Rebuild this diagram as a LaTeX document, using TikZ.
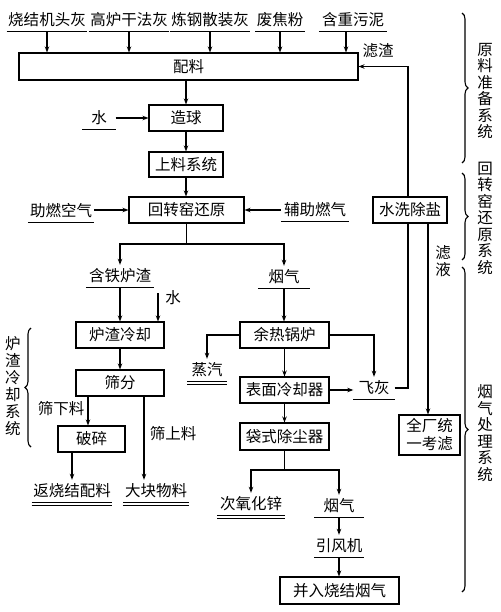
\documentclass[tikz,border=0pt]{standalone}
\usepackage{fontspec}
\newfontfamily\cjk{Noto Sans CJK SC}
\usetikzlibrary{arrows.meta,decorations.pathreplacing}
\begin{document}
\begin{tikzpicture}[x=1pt,y=-1pt,
  every node/.style={font=\cjk\fontsize{15.5}{16.5}\selectfont},
  box/.style={draw, line width=1.1pt, minimum height=26pt, inner sep=0pt, text height=11.5pt, text depth=0pt},
  lab/.style={inner xsep=1.5pt, inner ysep=5.25pt, text height=11.5pt, text depth=0pt},
  plain/.style={inner sep=0pt},
  arr/.style={line width=1.1pt, -{Stealth[length=6pt,width=4.5pt]}},
  ln/.style={line width=1.1pt},
  ul/.style={line width=1pt},
  brc/.style={line width=1.1pt, decorate, decoration={brace, amplitude=6pt}},
  vtxt/.style={align=center, inner sep=0pt}
]
\useasboundingbox (0,0) rectangle (500,612);

% top raw materials
\node[lab] (s1) at (47,20) {烧结机头灰};
\node[lab] (s2) at (129,20) {高炉干法灰};
\node[lab] (s3) at (210,20) {炼钢散装灰};
\node[lab] (s4) at (280,20) {废焦粉};
\node[lab, minimum width=68pt] (s5) at (353,20) {含重污泥};
\node[box, minimum width=339pt, minimum height=27pt] (pl) at (188.5,66.5) {配料};
\node[plain] (lz) at (378,51) {滤渣};

\node[lab, minimum width=33pt] (w1) at (99,118) {水};
\node[box, minimum width=74pt] (zq) at (186,118) {造球};
\node[box, minimum width=74pt, minimum height=25pt] (sl) at (186,164.5) {上料系统};
\node[box, minimum width=115pt] (hz) at (186.5,210) {回转窑还原};
\node[lab, minimum width=66pt] (zr) at (61,211) {助燃空气};
\node[lab, minimum width=68pt] (fz) at (315,210) {辅助燃气};
\node[box, minimum width=74pt] (sx) at (410,210) {水洗除盐};
\node[vtxt] (ly) at (443,261) {滤\\液};

\node[lab, minimum width=68pt] (ht) at (120,276) {含铁炉渣};
\node[lab, minimum width=52pt] (yq1) at (284,277) {烟气};
\node[plain] (w2) at (173,298) {水};
\node[box, minimum width=88pt] (lq) at (120,335) {炉渣冷却};
\node[box, minimum width=89pt] (yr) at (284.5,335) {余热锅炉};
\node[lab, minimum width=39pt] (zq2) at (207,370) {蒸汽};
\node[box, minimum width=88pt] (sf) at (120,383) {筛分};
\node[box, minimum width=89pt] (bm) at (284.5,390) {表面冷却器};
\node[lab, minimum width=41pt] (fh) at (374,388) {飞灰};
\node[plain] (sxl) at (61,409) {筛下料};
\node[plain] (ssl) at (173,434) {筛上料};
\node[box, minimum width=89pt, minimum height=27pt] (ds) at (284.5,436.5) {袋式除尘器};
\node[box, minimum width=67pt] (ps) at (91.5,439) {破碎};
\node[draw, line width=1.1pt, inner sep=0pt, minimum width=61pt, minimum height=40pt, align=center,
      font=\cjk\fontsize{15.5}{18}\selectfont] (qc) at (429.5,435) {全厂统\\一考滤};
\node[lab, minimum width=80pt] (fs) at (72,491) {返烧结配料};
\node[lab, minimum width=66pt] (dk) at (156,491) {大块物料};
\node[lab, minimum width=67pt] (cy) at (251,504) {次氧化锌};
\node[lab, minimum width=49pt] (yq2) at (339,506) {烟气};
\node[lab, minimum width=47pt] (yf) at (339,546) {引风机};
\node[box, minimum width=119pt, minimum height=27pt] (br) at (339.5,590.5) {并入烧结烟气};

% underlines
\foreach \n in {s1,s2,s3,s4,s5,w1,zr,fz,ht,yq1,fh,yq2,yf}
  \draw[ul] (\n.south west) -- (\n.south east);
\foreach \n in {zq2,fs,dk,cy}{
  \draw[ul] (\n.south west) -- (\n.south east);
  \draw[ul] ([yshift=-3pt]\n.south west) -- ([yshift=-3pt]\n.south east);
}

% connectors
\foreach \n in {s1,s2,s3,s4}
  \draw[arr] (\n.south) -- (\n.south |- pl.north);
\draw[arr] ([xshift=-7pt]s5.south) -- ([xshift=-7pt]s5.south |- pl.north);
\draw[arr] (pl.south -| zq.north) -- (zq.north);
\draw[arr] (w1.east) -- (w1.east -| zq.west);
\draw[arr] (zq.south) -- (sl.north);
\draw[arr] (sl.south) -- (sl.south |- hz.north);
\draw[arr] (hz.west -| zr.east) -- (hz.west);
\draw[arr] (hz.east -| fz.west) -- (hz.east);
\coordinate (sp1) at (186.5,244);
\draw[ln] (hz.south) -- (sp1);
\draw[arr] (sp1) -| (ht.north);
\draw[arr] (sp1) -| (yq1.north);
\draw[arr] (ht.south) -- (ht.south |- lq.north);
\coordinate (w2t) at (158,293);
\draw[arr] (w2t) -- (w2t |- lq.north);
\draw[arr] (lq.south) -- (sf.north);
\draw[arr] ([xshift=-32pt]sf.south) -- ([xshift=-32pt]sf.south |- ps.north);
\draw[arr] ([xshift=24pt]sf.south) -- ([xshift=24pt]sf.south |- dk.north);
\draw[arr] (ps.south -| fs.north) -- (fs.north);
\draw[arr] (yq1.south) -- (yq1.south |- yr.north);
\draw[arr] (yr.west) -| (zq2.north);
\draw[arr] (yr.east) -| (fh.north);
\draw[arr] (yr.south) -- (bm.north);
\draw[arr] (bm.east) -- (bm.east -| fh.west);
\draw[arr] (bm.south) -- (ds.north);
\coordinate (sp2) at (284.5,470);
\draw[ln] (ds.south) -- (sp2);
\draw[arr] (sp2) -| (cy.north);
\draw[arr] (sp2) -| (yq2.north);
\draw[arr] (yq2.south) -- (yf.north);
\draw[arr] (yf.south) -- (yf.south |- br.north);
\draw[ln] (fh.east) -| ([xshift=-2pt]sx.south);
\draw[arr] ([xshift=-2pt]sx.north) |- (pl.east);
\draw[arr] ([xshift=18pt]sx.south) -- ([xshift=18pt]sx.south |- qc.north);

% system brackets
\draw[brc] (462,13) -- (462,163);
\draw[brc] (462,173) -- (462,260);
\draw[brc] (462,267) -- (462,592);
\draw[brc] (31,447) -- (31,328);
\node[vtxt] (b1) at (485,91) {原\\料\\准\\备\\系\\统};
\node[vtxt] (b2) at (485,218) {回\\转\\窑\\还\\原\\系\\统};
\node[vtxt] (b3) at (485,433) {烟\\气\\处\\理\\系\\统};
\node[vtxt, font=\cjk\fontsize{15.5}{17}\selectfont] (b4) at (13,386) {炉\\渣\\冷\\却\\系\\统};
\end{tikzpicture}
\end{document}
